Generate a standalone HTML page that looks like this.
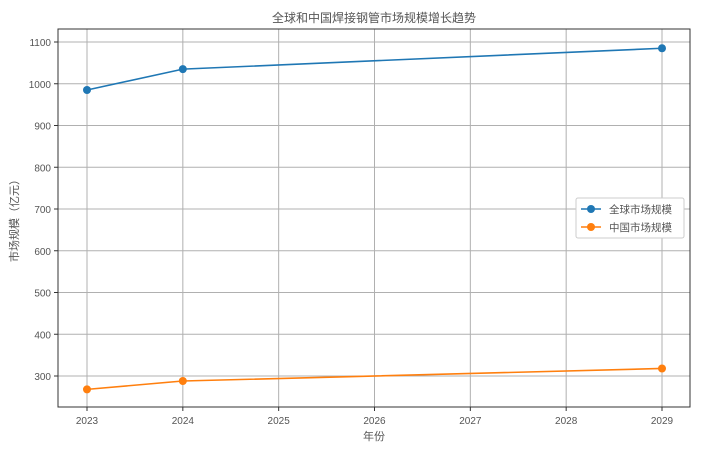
<!DOCTYPE html>
<html><head><meta charset="utf-8"><style>
body{margin:0;background:#fff}
svg text{font-family:"Liberation Sans","Noto Sans CJK SC",sans-serif;fill:#555}
</style></head><body>
<svg id="c" width="716" height="452"></svg>
<script>
const years=[2023,2024,2029];
const globalVals=[985,1035,1085];
const chinaVals=[268,288,318];
const xTicks=[2023,2024,2025,2026,2027,2028,2029];
const yTicks=[300,400,500,600,700,800,900,1000,1100];
const L=58,R=690,T=29,B=407;
const xs=v=>87+(v-2023)*(662-87)/6;
const ys=v=>376-(v-300)*(376-42)/800;
const svg=document.getElementById('c');
const NS='http://www.w3.org/2000/svg';
function mk(t,a,p){const e=document.createElementNS(NS,t);for(const k in a)e.setAttribute(k,a[k]);(p||svg).appendChild(e);return e;}
let e;
e=mk('rect',{x:L,y:T,width:R-L,height:B-T,fill:'#fff'});


xTicks.forEach(t=>{
 e=mk('line',{x1:xs(t),x2:xs(t),y1:T,y2:B,stroke:'#b0b0b0','stroke-width':1});
 
 
 mk('line',{x1:xs(t),x2:xs(t),y1:B,y2:B+4,stroke:'#333'});
 e=mk('text',{x:xs(t),y:B+17,'text-anchor':'middle','font-size':10});e.textContent=t;
 
 
});
yTicks.forEach(t=>{
 e=mk('line',{x1:L,x2:R,y1:ys(t),y2:ys(t),stroke:'#b0b0b0','stroke-width':1});
 
 
 mk('line',{x1:L-4,x2:L,y1:ys(t),y2:ys(t),stroke:'#333'});
 e=mk('text',{x:L-7,y:ys(t)+4,'text-anchor':'end','font-size':10});e.textContent=t;
 
 
});
e=mk('rect',{x:L,y:T,width:R-L,height:B-T,fill:'none',stroke:'#333','stroke-width':1});


function series(vals,col,name){
 e=mk('polyline',{points:years.map((y,i)=>xs(y)+','+ys(vals[i])).join(' '),fill:'none',stroke:col,'stroke-width':1.6});
 
 
 years.forEach((y,i)=>{
  e=mk('circle',{cx:xs(y),cy:ys(vals[i]),r:4,fill:col});
  
  
 });
}
series(globalVals,'#1f77b4','global');
series(chinaVals,'#ff7f0e','china');
e=mk('text',{x:374,y:22,'text-anchor':'middle','font-size':12});e.textContent='全球和中国焊接钢管市场规模增长趋势';


e=mk('text',{x:374,y:440,'text-anchor':'middle','font-size':11});e.textContent='年份';


e=mk('text',{x:18,y:218,'text-anchor':'middle','font-size':11,transform:'rotate(-90 18 218)'});e.textContent='市场规模（亿元）';


const lg=mk('g',{});


mk('rect',{x:576,y:198,width:108,height:40,fill:'#fff',stroke:'#ccc',rx:2},lg);
[['全球市场规模','#1f77b4'],['中国市场规模','#ff7f0e']].forEach((d,i)=>{
 const y=209+i*18;
 mk('line',{x1:581,x2:601,y1:y,y2:y,stroke:d[1],'stroke-width':1.6},lg);
 mk('circle',{cx:591,cy:y,r:4,fill:d[1]},lg);
 e=mk('text',{x:609,y:y+4,'font-size':10.5},lg);e.textContent=d[0];
 
 
});
</script>
</body></html>
